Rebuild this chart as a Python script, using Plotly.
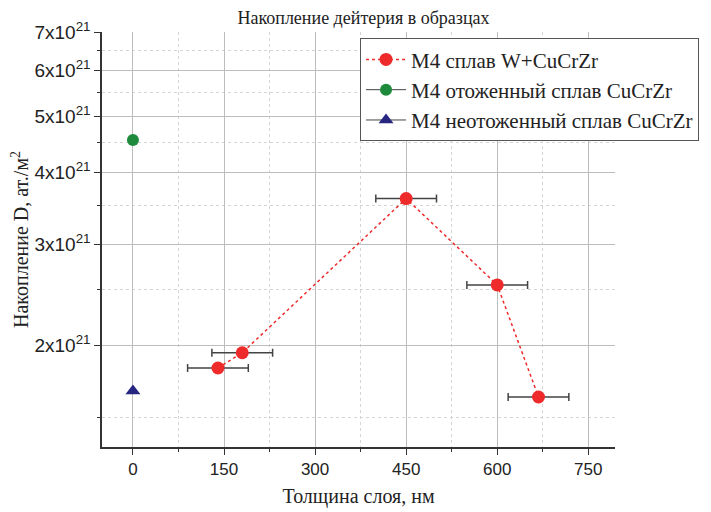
import plotly.graph_objects as go
import numpy as np

# Data
w_x = [140, 180, 450, 600, 668]
w_y = [1.83e21, 1.945e21, 3.60e21, 2.55e21, 1.63e21]
w_err = [50, 50, 50, 50, 50]

ann_x = [0]
ann_y = [4.55e21]

unann_x = [0]
unann_y = [1.67e21]

y_major = [2e21, 3e21, 4e21, 5e21, 6e21, 7e21]
y_major_text = ["2x10<sup>21</sup>", "3x10<sup>21</sup>", "4x10<sup>21</sup>",
                "5x10<sup>21</sup>", "6x10<sup>21</sup>", "7x10<sup>21</sup>"]
y_minor = [1.5e21, 2.5e21, 3.5e21, 4.5e21, 5.5e21, 6.5e21]
x_major = [0, 150, 300, 450, 600, 750]
x_minor = [75, 225, 375, 525, 675]

serif = "Liberation Serif, Times New Roman, serif"
sans = "Liberation Sans, Arial, sans-serif"

fig = go.Figure()
fig.add_trace(go.Scatter(
    x=w_x, y=w_y, mode="lines+markers", name="M4 сплав W+CuCrZr",
    line=dict(color="#ee2a2a", dash="dot", width=1.5),
    marker=dict(color="#ee2a2a", size=13, symbol="circle"),
    error_x=dict(type="data", array=w_err, color="#444444", thickness=1.5, width=4),
))
fig.add_trace(go.Scatter(
    x=ann_x, y=ann_y, mode="lines+markers", name="M4 отоженный сплав CuCrZr",
    line=dict(color="#444444", width=1),
    marker=dict(color="#1e8a3c", size=12, symbol="circle"),
))
fig.add_trace(go.Scatter(
    x=unann_x, y=unann_y, mode="lines+markers", name="M4 неотоженный сплав CuCrZr",
    line=dict(color="#444444", width=1),
    marker=dict(color="#262680", size=13, symbol="triangle-up"),
))

fig.update_layout(
    width=711, height=512,
    margin=dict(l=94, r=104, t=24, b=73, autoexpand=False),
    paper_bgcolor="white", plot_bgcolor="white",
    title=dict(text="Накопление дейтерия в образцах", x=0.5, xanchor="center",
               y=0.982, yanchor="middle", font=dict(family=serif, size=18, color="#222")),
    legend=dict(x=0.503, y=0.985, xanchor="left", yanchor="top",
                bordercolor="#555", borderwidth=1, bgcolor="white",
                font=dict(family=serif, size=21, color="#222"),
                tracegroupgap=0, itemwidth=40),
    showlegend=True,
)
fig.update_xaxes(
    range=[-51, 794], tickvals=x_major, ticktext=[str(v) for v in x_major],
    tickfont=dict(family=sans, size=17, color="#222"), automargin=False,
    showline=True, linecolor="#333", linewidth=1.5,
    ticks="outside", ticklen=6, tickcolor="#333", tickwidth=1,
    showgrid=True, gridcolor="#bdbdbd", gridwidth=1, zeroline=False,
    minor=dict(tickmode="array", tickvals=x_minor, ticks="outside",
               ticklen=3, tickcolor="#333", showgrid=True, gridcolor="#d5d5d5", griddash="dot"),
    title=dict(text="Толщина слоя, нм", font=dict(family=serif, size=20, color="#222"), standoff=11),
)
fig.update_yaxes(
    type="log", range=[np.log10(1.335e21), np.log10(7.0e21)],
    tickmode="array", tickvals=y_major, ticktext=y_major_text,
    tickfont=dict(family=sans, size=19, color="#222"), automargin=False,
    showline=True, linecolor="#333", linewidth=1.5,
    ticks="outside", ticklen=6, tickcolor="#333", tickwidth=1,
    showgrid=True, gridcolor="#bdbdbd", gridwidth=1, zeroline=False,
    minor=dict(tickmode="array", tickvals=y_minor, ticks="outside",
               ticklen=3, tickcolor="#333", showgrid=True, gridcolor="#d5d5d5", griddash="dot"),
    title=dict(text="Накопление D, ат./м<sup>2</sup>", font=dict(family=serif, size=20, color="#222"), standoff=8),
)

fig.write_html("out.html")
